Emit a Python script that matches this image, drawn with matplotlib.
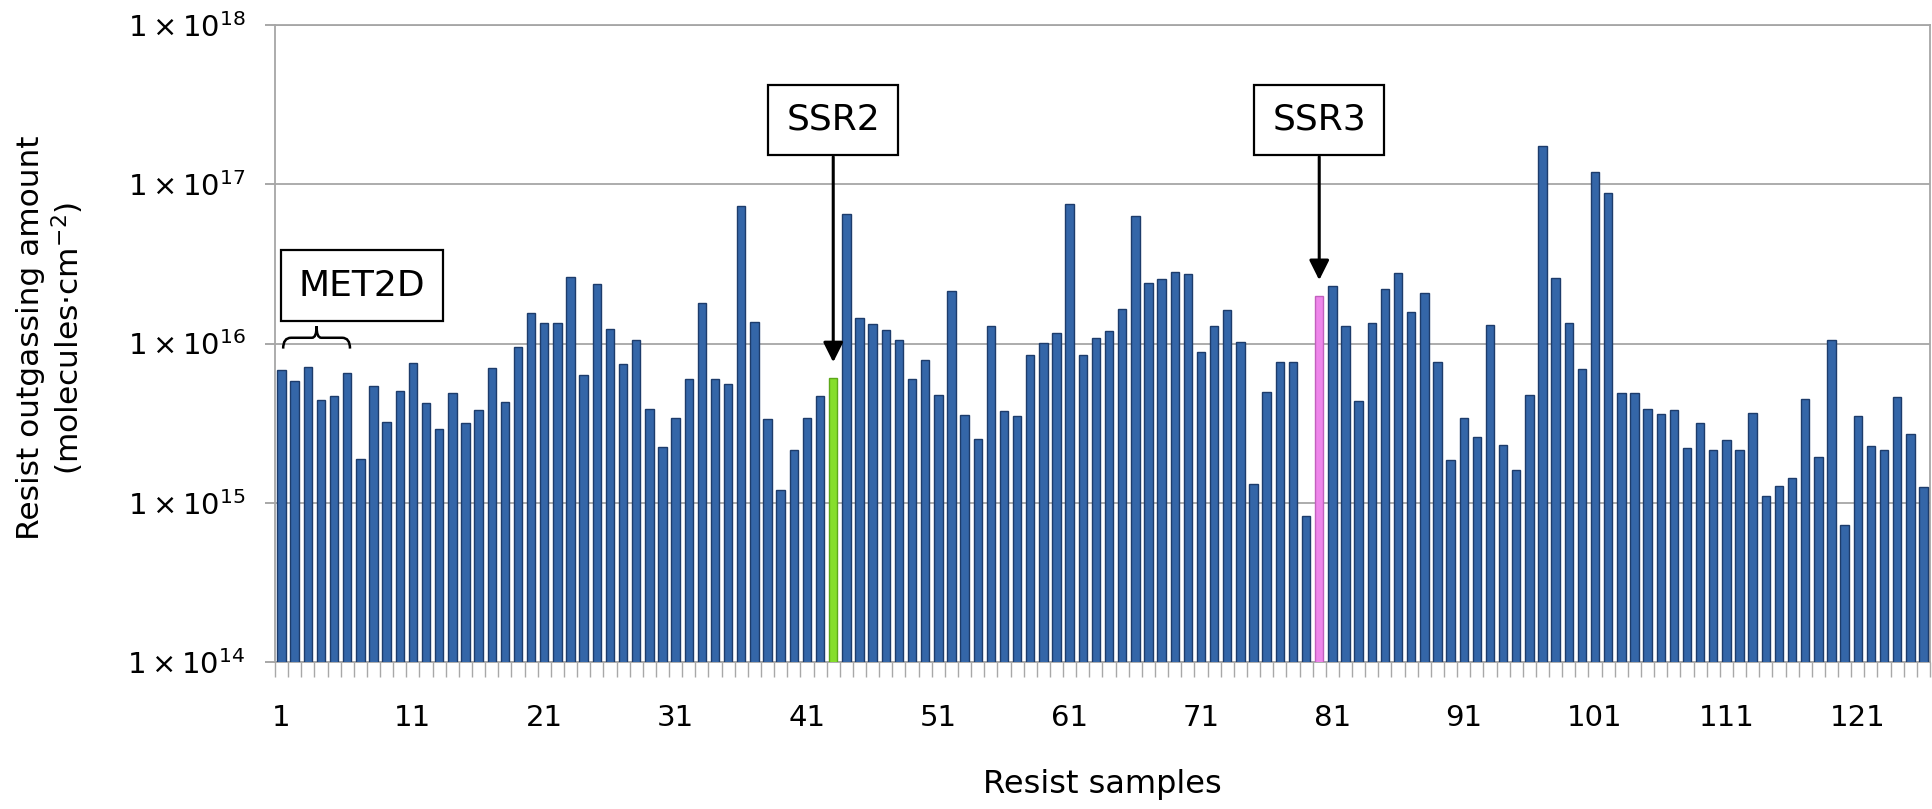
import numpy as np
import matplotlib.pyplot as plt
from matplotlib.path import Path
from matplotlib.patches import PathPatch
from matplotlib.transforms import blended_transform_factory

# resist outgassing amounts (molecules/cm2), samples 1..126
samples = np.arange(1, 127)
outgassing = [
    6.8e15, 5.8e15, 7.1e15, 4.4e15, 4.7e15, 6.5e15, 1.87e15, 5.4e15, 3.2e15, 5.0e15,
    7.5e15, 4.2e15, 2.9e15, 4.9e15, 3.15e15, 3.8e15, 7.0e15, 4.3e15, 9.5e15, 1.56e16,
    1.35e16, 1.35e16, 2.63e16, 6.3e15, 2.37e16, 1.23e16, 7.4e15, 1.05e16, 3.9e15, 2.25e15,
    3.4e15, 6.0e15, 1.79e16, 5.96e15, 5.6e15, 7.3e16, 1.37e16, 3.34e15, 1.2e15, 2.14e15,
    3.39e15, 4.68e15, 6.1e15, 6.5e16, 1.45e16, 1.33e16, 1.22e16, 1.05e16, 5.96e15, 7.9e15,
    4.75e15, 2.15e16, 3.55e15, 2.5e15, 1.28e16, 3.77e15, 3.52e15, 8.5e15, 1.01e16, 1.16e16,
    7.5e16, 8.5e15, 1.09e16, 1.19e16, 1.65e16, 6.3e16, 2.41e16, 2.53e16, 2.81e16, 2.72e16,
    8.8e15, 1.28e16, 1.62e16, 1.02e16, 1.32e15, 4.93e15, 7.6e15, 7.6e15, 8.25e14, 2.0e16,
    2.3e16, 1.28e16, 4.37e15, 1.35e16, 2.19e16, 2.76e16, 1.58e16, 2.07e16, 7.6e15, 1.85e15,
    3.39e15, 2.6e15, 1.3e16, 2.32e15, 1.6e15, 4.75e15, 1.75e17, 2.56e16, 1.35e16, 6.9e15,
    1.2e17, 8.8e16, 4.9e15, 4.9e15, 3.9e15, 3.59e15, 3.8e15, 2.22e15, 3.15e15, 2.14e15,
    2.48e15, 2.14e15, 3.64e15, 1.1e15, 1.27e15, 1.42e15, 4.5e15, 1.93e15, 1.05e16, 7.2e14,
    3.52e15, 2.28e15, 2.14e15, 4.6e15, 2.7e15, 1.25e15,
]
ssr2_sample = 43
ssr3_sample = 80
met2d_first, met2d_last = 1, 6
xtick_values = list(range(1, 122, 10))
xtick_labels = [str(v) for v in xtick_values]
ytick_exps = [14, 15, 16, 17, 18]

colors = []
edges = []
for s in samples:
    if s == ssr2_sample:
        colors.append("#86DE2C")
        edges.append("#5DA81A")
    elif s == ssr3_sample:
        colors.append("#EE86EA")
        edges.append("#C260BE")
    else:
        colors.append("#3466A8")
        edges.append("#1D3C6B")

W, H = 1933, 809
fig = plt.figure(figsize=(W / 100, H / 100), dpi=100)
ax = fig.add_axes([275 / W, 1 - 662 / H, 1655 / W, 637 / H])

ax.bar(samples, outgassing, width=0.64, color=colors, edgecolor=edges, linewidth=1.0, zorder=3)

ax.set_yscale("log")
ax.set_ylim(1e14, 1e18)
ax.set_xlim(0.5, 126.5)

ax.set_yticks([10.0 ** e for e in ytick_exps])
ax.set_yticklabels([r"$\mathregular{1\times10^{%d}}$" % e for e in ytick_exps], fontsize=21)
ax.yaxis.set_minor_locator(plt.NullLocator())
ax.tick_params(axis="y", which="major", length=7, width=1.2, color="#9A9A9A", pad=14)

ax.set_xticks(xtick_values)
ax.set_xticklabels(xtick_labels, fontsize=21)
ax.set_xticks(np.arange(0.5, 127, 1), minor=True)
ax.tick_params(axis="x", which="major", length=0, pad=30)
ax.tick_params(axis="x", which="minor", length=11, width=1.0, color="#A8A8A8")

ax.grid(axis="y", which="major", color="#A6A6A6", linewidth=1.3, zorder=0)
for sp in ax.spines.values():
    sp.set_color("#A6A6A6")
    sp.set_linewidth(1.3)

fig.text(1102 / W, 1 - 784 / H, "Resist samples", ha="center", va="center", fontsize=23)
fig.text(51 / W, 1 - 338 / H, "Resist outgassing amount\n(molecules·cm$^{-2}$)",
         rotation=90, ha="center", va="center", multialignment="center",
         fontsize=22.5, linespacing=1.15)

trans = blended_transform_factory(ax.transData, ax.transAxes)
box = dict(boxstyle="square,pad=0.5", fc="white", ec="black", lw=1.6)

# SSR2 / SSR3 labels with arrows
for s, name in [(ssr2_sample, "SSR2"), (ssr3_sample, "SSR3")]:
    ax.text(s, 0.851, name, transform=trans, ha="center", va="center", fontsize=26, bbox=box, zorder=6)
    ax.annotate("", xy=(s, outgassing[s - 1] * 1.25), xycoords="data",
                xytext=(s, 0.793), textcoords=trans,
                arrowprops=dict(arrowstyle="-|>", color="black", lw=2.2,
                                mutation_scale=30, shrinkA=0, shrinkB=0), zorder=6)

# MET2D label and brace
ax.text(7.13, 0.591, "MET2D", transform=trans, ha="center", va="center", fontsize=26, bbox=box, zorder=6)
xl, xr = met2d_first + 0.12, met2d_last + 0.21
xm = (xl + xr) / 2
yb, yh, yt = 0.492, 0.509, 0.527
verts = [(xl, yb), (xl, yh), (xl + 0.6, yh),
         (xm - 0.35, yh), (xm, yh), (xm, yt),
         (xm, yh), (xm + 0.35, yh),
         (xr - 0.6, yh), (xr, yh), (xr, yb)]
codes = [Path.MOVETO, Path.CURVE3, Path.CURVE3,
         Path.LINETO, Path.CURVE3, Path.CURVE3,
         Path.CURVE3, Path.CURVE3,
         Path.LINETO, Path.CURVE3, Path.CURVE3]
ax.add_patch(PathPatch(Path(verts, codes), transform=trans, fc="none", ec="black", lw=1.8, zorder=6))

fig.savefig("out.png", dpi=100)
